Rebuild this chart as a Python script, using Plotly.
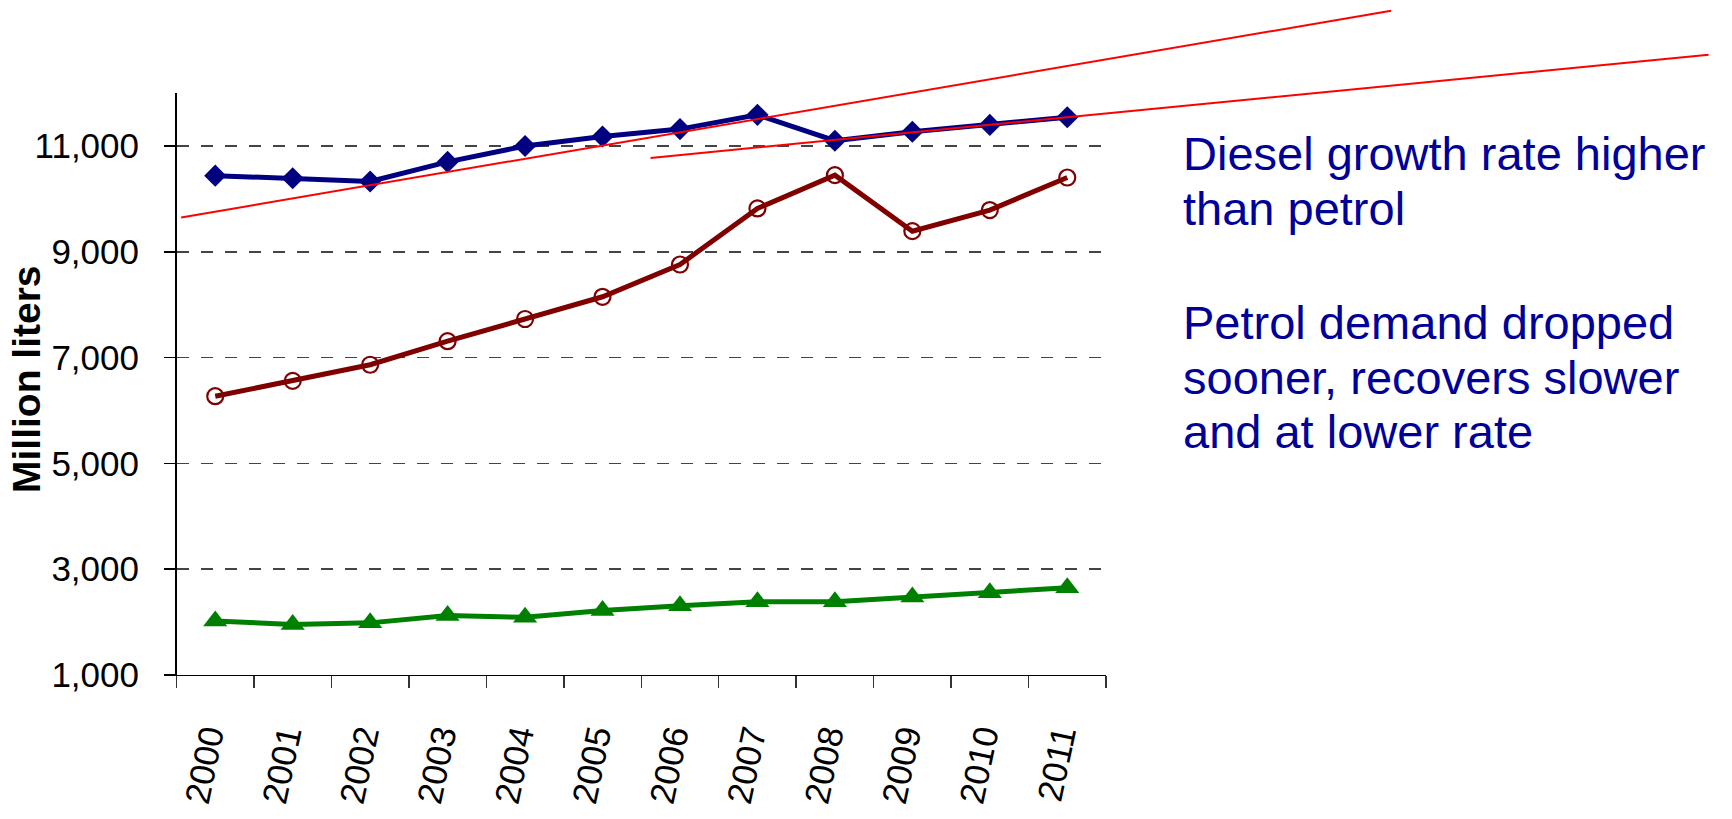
import plotly.graph_objects as go

# ---------------- data ----------------
years = ["2000", "2001", "2002", "2003", "2004", "2005",
         "2006", "2007", "2008", "2009", "2010", "2011"]
diesel = [10440, 10390, 10330, 10700, 11000, 11180,
          11320, 11590, 11100, 11270, 11400, 11545]
petrol = [6270, 6560, 6865, 7310, 7730, 8150,
          8760, 9820, 10450, 9390, 9790, 10405]
other = [2020, 1955, 1985, 2125, 2090, 2220,
         2310, 2385, 2385, 2475, 2555, 2650]

# hand-drawn trend lines (year, value) start / end
trend1_x = [1999.56, 2015.18]
trend1_y = [9648, 13558]
trend2_x = [2005.62, 2019.28]
trend2_y = [10775, 12727]

y_ticks = [1000, 3000, 5000, 7000, 9000, 11000]

note_lines_1 = ["Diesel growth rate higher", "than petrol"]
note_lines_2 = ["Petrol demand dropped", "sooner, recovers slower", "and at lower rate"]

# ---------------- layout geometry (pixels) ----------------
W, H = 1732, 819
X0, X1 = 176.5, 1106.0          # plot area left / right
Y_BOT, Y_TOP = 691.0, 95.35     # plot area bottom / top
YMIN, YMAX = 1000, 12000
FONT = "Liberation Sans, Arial, sans-serif"

ncat = len(years)
xu = ncat / (X1 - X0)                       # category units per px
x2_range = [1999.5 - X0 * xu, 1999.5 + (W - X0) * xu]
yu = (YMAX - YMIN) / (Y_BOT - Y_TOP)        # value units per px
y2_range = [YMIN - (H - Y_BOT) * yu, YMAX + Y_TOP * yu]

fig = go.Figure()

fig.add_trace(go.Scatter(
    x=years, y=other, mode="lines+markers",
    line=dict(color="#008000", width=5),
    marker=dict(symbol="triangle-up", size=21, color="#008000"),
    name="Other"))
fig.add_trace(go.Scatter(
    x=years, y=petrol, mode="lines+markers",
    line=dict(color="#800000", width=5),
    marker=dict(symbol="circle-open", size=16, color="#800000",
                line=dict(width=2.2, color="#800000")),
    name="Petrol"))
fig.add_trace(go.Scatter(
    x=years, y=diesel, mode="lines+markers",
    line=dict(color="#000080", width=5),
    marker=dict(symbol="diamond", size=17, color="#000080"),
    name="Diesel"))

for tx, ty in ((trend1_x, trend1_y), (trend2_x, trend2_y)):
    fig.add_trace(go.Scatter(
        x=tx, y=ty, mode="lines", xaxis="x2", yaxis="y2",
        line=dict(color="#FF0000", width=2), hoverinfo="skip",
        showlegend=False))

annotations = []
for txt, yc in zip(note_lines_1 + note_lines_2, [157, 213, 330, 386, 442]):
    annotations.append(dict(
        text=txt, xref="paper", yref="paper", x=1181 / W, y=1 - yc / H,
        xanchor="left", yanchor="middle", showarrow=False,
        font=dict(family=FONT, size=47, color="#000099")))
annotations.append(dict(
    text="<b>Million liters</b>", xref="paper", yref="paper",
    x=27 / W, y=1 - 388 / H, xanchor="center", yanchor="middle",
    textangle=-90, showarrow=False,
    font=dict(family=FONT, size=39, color="#000000")))

fig.update_layout(
    width=W, height=H,
    margin=dict(l=0, r=0, t=0, b=0),
    paper_bgcolor="white", plot_bgcolor="rgba(0,0,0,0)",
    showlegend=False,
    font=dict(family=FONT, color="#000000"),
    annotations=annotations,
    xaxis=dict(
        type="category", domain=[X0 / W, X1 / W], range=[-0.5, ncat - 0.5],
        tickson="boundaries", ticks="outside", ticklen=12, tickwidth=1.5,
        tickcolor="#333333", showgrid=False, showline=True,
        linecolor="#000000", linewidth=1.5, tickangle=-78,
        ticklabelstandoff=25, ticklabelshift=-8,
        tickfont=dict(family=FONT, size=35),
        zeroline=False, anchor="y"),
    yaxis=dict(
        domain=[1 - Y_BOT / H, 1 - Y_TOP / H], range=[YMIN, YMAX],
        tickvals=y_ticks, tickformat=",d", ticks="outside", ticklen=11,
        tickwidth=1.5, tickcolor="#000000", showline=True,
        linecolor="#000000", linewidth=1.5, showgrid=True,
        gridcolor="#444444", gridwidth=1.5, griddash="12px,12px",
        zeroline=False, tickfont=dict(family=FONT, size=35),
        ticklabelstandoff=18, anchor="x"),
    xaxis2=dict(domain=[0, 1], range=x2_range, visible=False,
                anchor="y2", fixedrange=True),
    yaxis2=dict(domain=[0, 1], range=y2_range, visible=False,
                anchor="x2", fixedrange=True),
)

fig.write_html(
    "out.html",
    config={"displayModeBar": False, "staticPlot": True},
    post_script=(
        "var d=document.getElementById('{plot_id}');"
        "d.style.position='fixed';d.style.top='0px';d.style.left='0px';"
        "document.body.style.margin='0px';"
        "document.documentElement.style.overflow='hidden';"
    ),
)
